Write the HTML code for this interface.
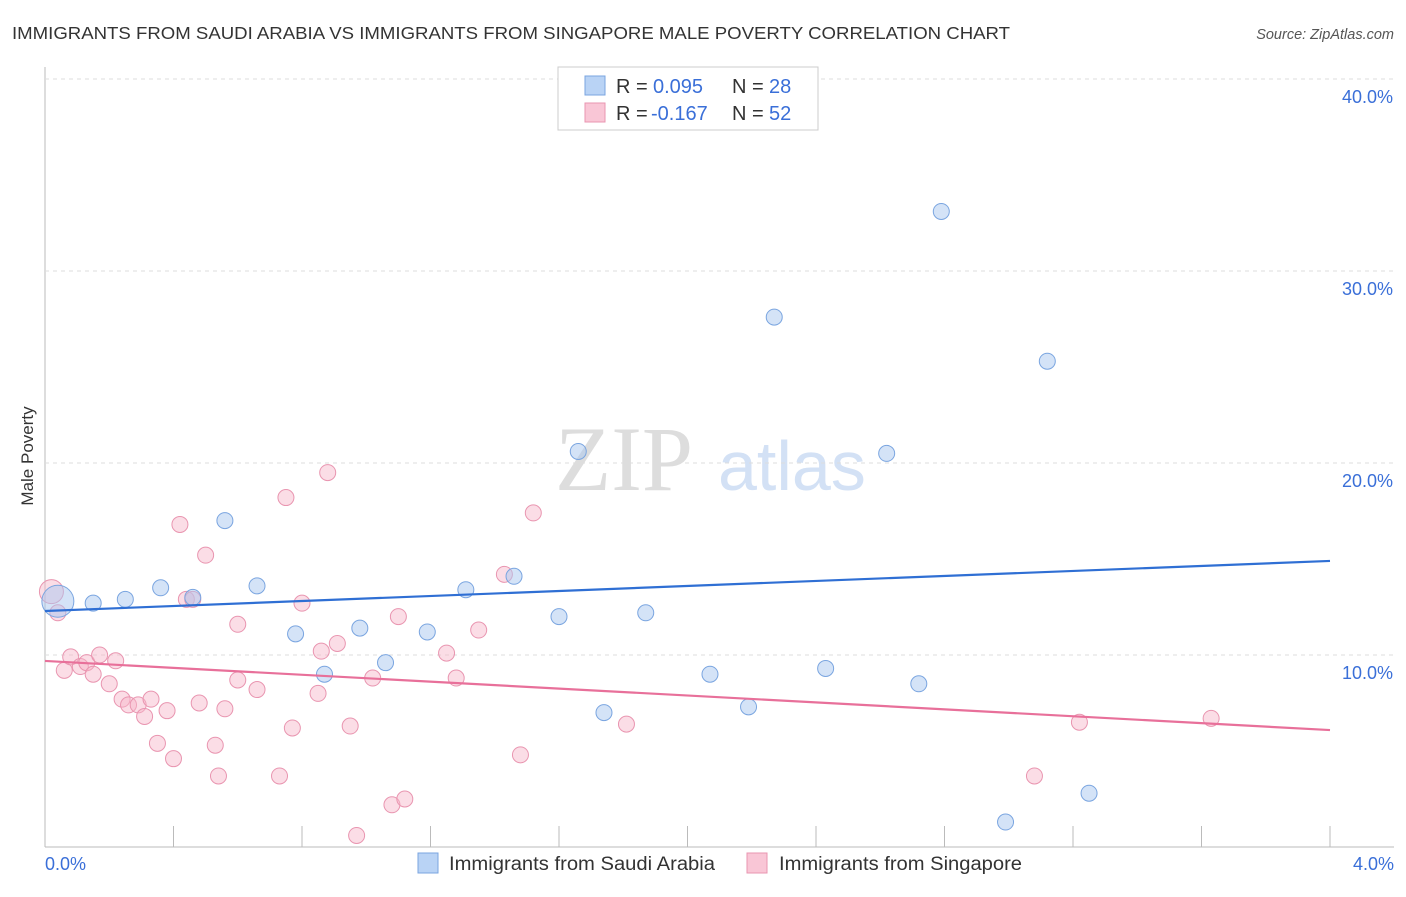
<!DOCTYPE html>
<html><head><meta charset="utf-8"><style>
body{margin:0;background:#fff;font-family:"Liberation Sans",sans-serif;}
</style></head><body>
<svg width="1406" height="892" xmlns="http://www.w3.org/2000/svg" id="chart">
<text x="12" y="39" font-size="17.5" fill="#333" textLength="998" lengthAdjust="spacingAndGlyphs">IMMIGRANTS FROM SAUDI ARABIA VS IMMIGRANTS FROM SINGAPORE MALE POVERTY CORRELATION CHART</text>
<text x="1394" y="39" font-size="14.5" fill="#555" text-anchor="end" font-style="italic">Source: ZipAtlas.com</text>
<text x="33" y="456" font-size="17" fill="#333" text-anchor="middle" transform="rotate(-90 33 456)">Male Poverty</text>
<text x="555" y="490" font-size="92" fill="#ddd" font-family="Liberation Serif,serif">ZIP</text>
<text x="718" y="490" font-size="70" fill="#d3e1f5">atlas</text>
<g id="grid"></g><g id="marks"></g>
<g>
<rect x="558" y="67" width="260" height="63" fill="#fff" stroke="#ccc"/>
<rect x="585" y="76" width="20" height="19" fill="#b9d3f5" stroke="#7aa5e0"/>
<rect x="585" y="103" width="20" height="19" fill="#f9c6d6" stroke="#e995b0"/>
<text y="93" font-size="20" fill="#333"><tspan x="616">R =</tspan><tspan x="653" fill="#3a6fd8">0.095</tspan><tspan x="732">N =</tspan><tspan x="769" fill="#3a6fd8">28</tspan></text>
<text y="120" font-size="20" fill="#333"><tspan x="616">R =</tspan><tspan x="651" fill="#3a6fd8">-0.167</tspan><tspan x="732">N =</tspan><tspan x="769" fill="#3a6fd8">52</tspan></text>
</g>
<g>
<rect x="418" y="853" width="20" height="20" fill="#b9d3f5" stroke="#7aa5e0"/>
<text x="449" y="870" font-size="19" fill="#333" textLength="266" lengthAdjust="spacingAndGlyphs">Immigrants from Saudi Arabia</text>
<rect x="747" y="853" width="20" height="20" fill="#f9c6d6" stroke="#e995b0"/>
<text x="779" y="870" font-size="19" fill="#333" textLength="243" lengthAdjust="spacingAndGlyphs">Immigrants from Singapore</text>
</g>
</svg>
<script>
const xTicks=[0,0.4,0.8,1.2,1.6,2,2.4,2.8,3.2,3.6,4];
const yTicks=[10,20,30,40];
const blueX=[0.04,0.15,0.25,0.36,0.46,0.56,0.66,0.78,0.87,0.98,1.06,1.19,1.31,1.46,1.60,1.66,1.74,1.87,2.07,2.19,2.27,2.43,2.62,2.72,2.79,2.99,3.12,3.25];
const blueY=[12.8,12.7,12.9,13.5,13.0,17.0,13.6,11.1,9.0,11.4,9.6,11.2,13.4,14.1,12.0,20.6,7.0,12.2,9.0,7.3,27.6,9.3,20.5,8.5,33.1,1.3,25.3,2.8];
const pinkX=[0.02,0.04,0.06,0.08,0.11,0.13,0.15,0.17,0.20,0.22,0.24,0.26,0.29,0.31,0.33,0.35,0.38,0.40,0.42,0.44,0.46,0.48,0.50,0.53,0.54,0.56,0.60,0.60,0.66,0.73,0.75,0.77,0.80,0.85,0.86,0.88,0.91,0.95,0.97,1.02,1.08,1.10,1.12,1.25,1.28,1.35,1.43,1.48,1.52,1.81,3.08,3.22,3.63];
const pinkY=[13.3,12.2,9.2,9.9,9.4,9.6,9.0,10.0,8.5,9.7,7.7,7.4,7.4,6.8,7.7,5.4,7.1,4.6,16.8,12.9,12.9,7.5,15.2,5.3,3.7,7.2,8.7,11.6,8.2,3.7,18.2,6.2,12.7,8.0,10.2,19.5,10.6,6.3,0.6,8.8,2.2,12.0,2.5,10.1,8.8,11.3,14.2,4.8,17.4,6.4,3.7,6.5,6.7];
const blueTrend=[12.29,14.9];
const pinkTrend=[9.69,6.09];
const sx=v=>45+v/4*1285, sy=v=>847-v*19.2;
const NS='http://www.w3.org/2000/svg';
const grid=document.getElementById('grid'), marks=document.getElementById('marks');
function mk(tag,attrs,parent){const e=document.createElementNS(NS,tag);for(const k in attrs)e.setAttribute(k,attrs[k]);parent.appendChild(e);return e;}
let ax=mk('line',{x1:45,y1:67,x2:45,y2:847,stroke:'#bbb'},grid);


let bx=mk('line',{x1:45,y1:847,x2:1394,y2:847,stroke:'#bbb'},grid);


yTicks.forEach(t=>{
 const g=mk('line',{x1:45,y1:sy(t),x2:1394,y2:sy(t),stroke:'#ddd','stroke-dasharray':'4,4'},grid);
 
 
 const l=mk('text',{x:1393,y:sy(t)+24,'font-size':18,fill:'#3a6fd8','text-anchor':'end'},grid);l.textContent=t.toFixed(1)+'%';
 
 
});
xTicks.forEach(t=>{
 const g=mk('line',{x1:sx(t),y1:826,x2:sx(t),y2:847,stroke:'#bbb'},grid);
 
 
});
[[0,'0.0%',45,'start'],[4,'4.0%',1394,'end']].forEach(a=>{
 const l=mk('text',{x:a[2],y:870,'font-size':18,fill:'#3a6fd8','text-anchor':a[3]},grid);l.textContent=a[1];
 
 
});
pinkX.forEach((x,i)=>{
 const c=mk('circle',{cx:sx(x),cy:sy(pinkY[i]),r:i==0?12:8,fill:'rgba(246,180,200,0.45)',stroke:'#e995b0','stroke-width':1},marks);
 
 
});
blueX.forEach((x,i)=>{
 const c=mk('circle',{cx:sx(x),cy:sy(blueY[i]),r:i==0?16:8,fill:'rgba(170,200,240,0.5)',stroke:'#7aa5e0','stroke-width':1},marks);
 
 
});
const bl=mk('line',{x1:sx(0),y1:sy(blueTrend[0]),x2:sx(4),y2:sy(blueTrend[1]),stroke:'#2f6fd4','stroke-width':2.2},marks);


const pl=mk('line',{x1:sx(0),y1:sy(pinkTrend[0]),x2:sx(4),y2:sy(pinkTrend[1]),stroke:'#e8709a','stroke-width':2.2},marks);


</script>
</body></html>
